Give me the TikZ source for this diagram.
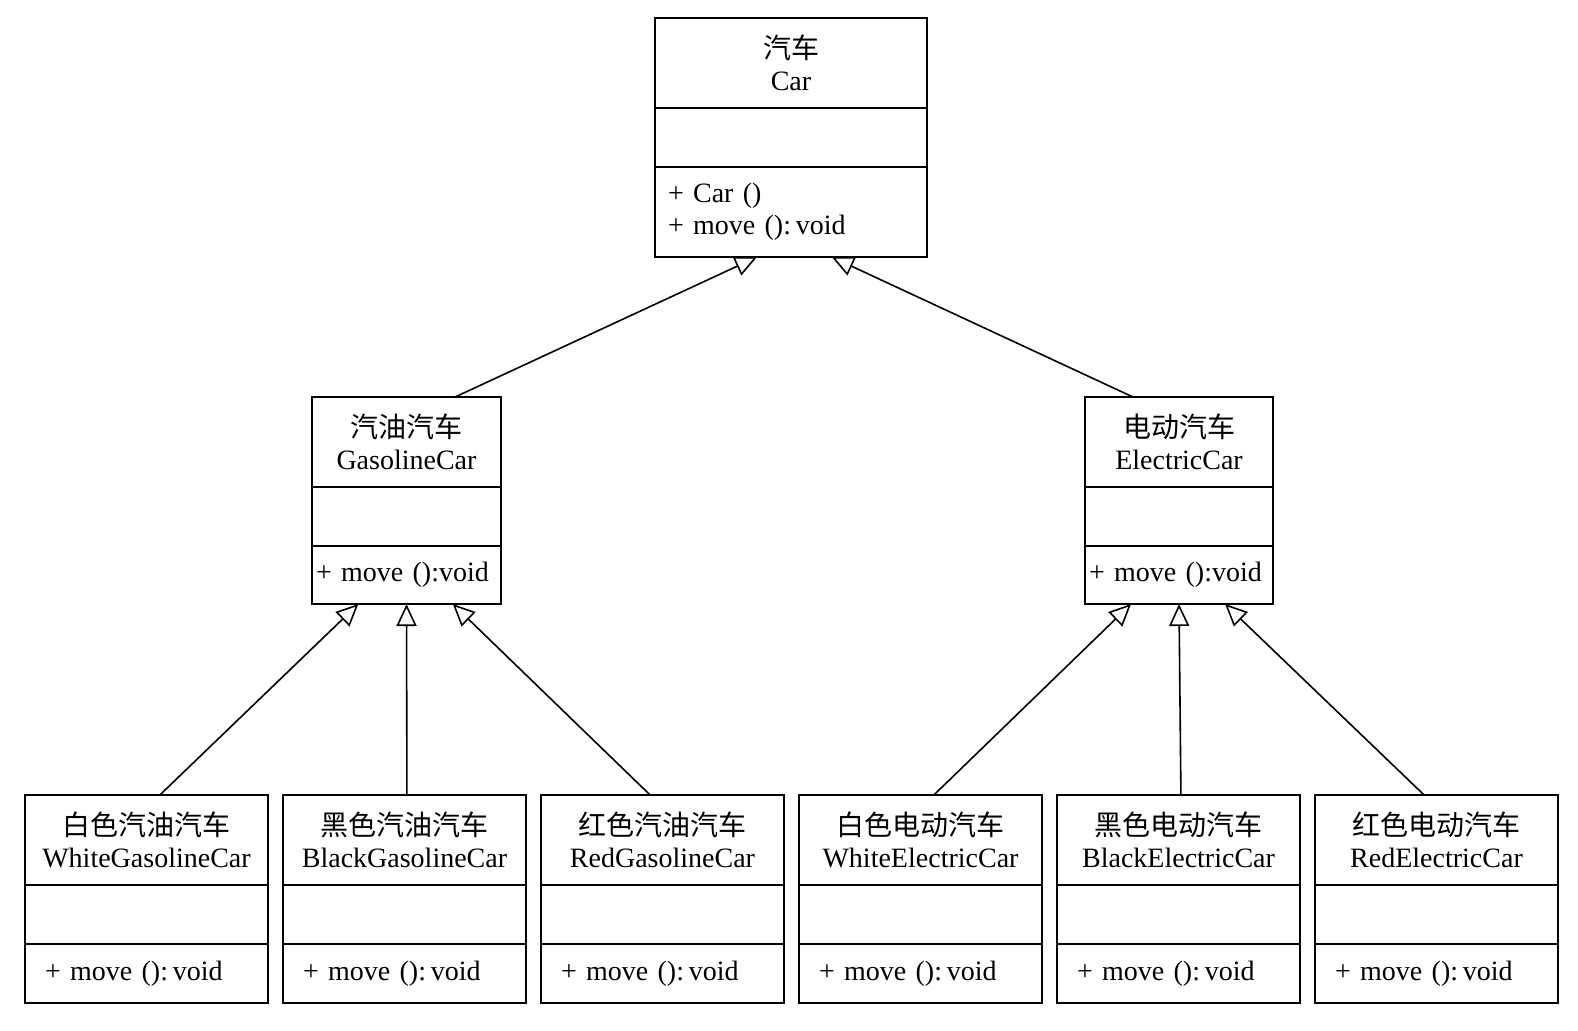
\documentclass[tikz,border=0pt]{standalone}
\usepackage{fontspec}
\setmainfont{Liberation Serif}
\newfontfamily\cjk{Noto Sans CJK SC}
\usepackage{tikz}
\usetikzlibrary{positioning,arrows.meta}
\usetikzlibrary{calc}

\begin{document}
\begin{tikzpicture}[x=1pt,y=1pt,font=\fontsize{14}{16}\selectfont,line width=0.9pt,
	umlname/.style={draw,align=center,inner sep=0pt,outer sep=0pt,minimum height=45pt,anchor=north},
	umlattr/.style={draw,inner sep=0pt,outer sep=0pt,minimum height=29.5pt,below=0pt of #1},
	umlops/.style={draw,align=left,inner ysep=0pt,outer sep=0pt,minimum height=29.5pt},
	isa/.style={-{Triangle[open,length=11pt,width=10pt]},line width=0.8pt}]
		\useasboundingbox (0,0) rectangle (789,-515);
		% top class
		\node[umlname,minimum width=136pt] (car) at (395.5,-9) {{\cjk 汽车}\\Car};
		\node[umlattr=car,minimum width=136pt] (car-a) {};
		\node[umlops,below=0pt of car-a,text width=123pt,inner xsep=6.5pt,minimum height=45pt] (car-m) {+ Car ()\\+ move ():\,void};
		
		\node[umlname,minimum width=94.5pt] (gas) at (203.25,-198.5) {{\cjk 汽油汽车}\\GasolineCar};
		\node[umlattr=gas,minimum width=94.5pt] (gas-a) {};
		\node[umlops,below=0pt of gas-a,text width=90.5pt,inner xsep=2pt,minimum height=29pt] (gas-m) {\mbox{+ move ():void}};
		
		\node[umlname,minimum width=94pt] (ele) at (589.5,-198.5) {{\cjk 电动汽车}\\ElectricCar};
		\node[umlattr=ele,minimum width=94pt] (ele-a) {};
		\node[umlops,below=0pt of ele-a,text width=90pt,inner xsep=2pt,minimum height=29pt] (ele-m) {\mbox{+ move ():void}};
		
		% bottom row, name / name-a / name-m
		\node[umlname,minimum width=121.5pt] (wg) at (73.25,-397.5) {{\cjk 白色汽油汽车}\\WhiteGasolineCar};
		\node[umlattr=wg,minimum width=121.5pt] (wg-a) {};
		\node[umlops,below=0pt of wg-a,text width=101.5pt,inner xsep=10pt] (wg-m) {+ move ():\,void};
		
		\node[umlname,minimum width=121.5pt] (bg) at (202.25,-397.5) {{\cjk 黑色汽油汽车}\\BlackGasolineCar};
		\node[umlattr=bg,minimum width=121.5pt] (bg-a) {};
		\node[umlops,below=0pt of bg-a,text width=101.5pt,inner xsep=10pt] (bg-m) {+ move ():\,void};
		
		\node[umlname,minimum width=121.5pt] (rg) at (331.25,-397.5) {{\cjk 红色汽油汽车}\\RedGasolineCar};
		\node[umlattr=rg,minimum width=121.5pt] (rg-a) {};
		\node[umlops,below=0pt of rg-a,text width=101.5pt,inner xsep=10pt] (rg-m) {+ move ():\,void};
		
		\node[umlname,minimum width=121.5pt] (we) at (460.25,-397.5) {{\cjk 白色电动汽车}\\WhiteElectricCar};
		\node[umlattr=we,minimum width=121.5pt] (we-a) {};
		\node[umlops,below=0pt of we-a,text width=101.5pt,inner xsep=10pt] (we-m) {+ move ():\,void};
		
		\node[umlname,minimum width=121.5pt] (be) at (589.25,-397.5) {{\cjk 黑色电动汽车}\\BlackElectricCar};
		\node[umlattr=be,minimum width=121.5pt] (be-a) {};
		\node[umlops,below=0pt of be-a,text width=101.5pt,inner xsep=10pt] (be-m) {+ move ():\,void};
		
		\node[umlname,minimum width=121.5pt] (re) at (718.25,-397.5) {{\cjk 红色电动汽车}\\RedElectricCar};
		\node[umlattr=re,minimum width=121.5pt] (re-a) {};
		\node[umlops,below=0pt of re-a,text width=101.5pt,inner xsep=10pt] (re-m) {+ move ():\,void};
		
		\draw[isa] ($(gas.north west)!0.757!(gas.north east)$) -- ($(car-m.south west)!0.375!(car-m.south east)$);
		\draw[isa] ($(ele.north west)!0.255!(ele.north east)$) -- ($(car-m.south west)!0.65!(car-m.south east)$);
		
		\draw[isa] ($(wg.north west)!0.555!(wg.north east)$) -- ($(gas-m.south west)!0.245!(gas-m.south east)$);
		\draw[isa] ($(bg.north west)!0.51!(bg.north east)$) -- ($(gas-m.south west)!0.5!(gas-m.south east)$);
		\draw[isa] ($(rg.north west)!0.449!(rg.north east)$) -- ($(gas-m.south west)!0.745!(gas-m.south east)$);
		
		\draw[isa] ($(we.north west)!0.555!(we.north east)$) -- ($(ele-m.south west)!0.245!(ele-m.south east)$);
		\draw[isa] ($(be.north west)!0.51!(be.north east)$) -- ($(ele-m.south west)!0.5!(ele-m.south east)$);
		\draw[isa] ($(re.north west)!0.449!(re.north east)$) -- ($(ele-m.south west)!0.745!(ele-m.south east)$);
	\end{tikzpicture}
\end{document}
